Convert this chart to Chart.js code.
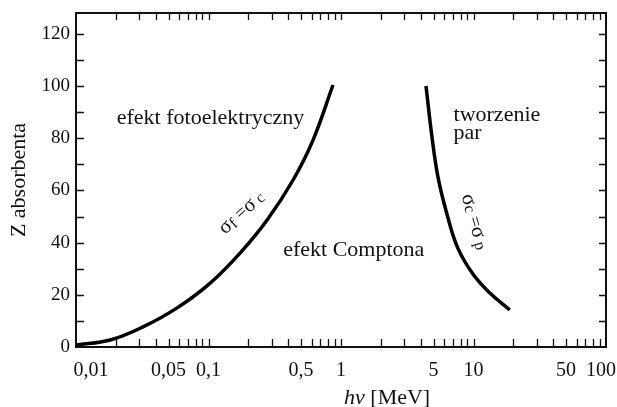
<!DOCTYPE html>
<html lang="pl">
  <head>
    <meta charset="UTF-8" />
    <title>Efekty absorpcji</title>
    <style>
      * { margin: 0; padding: 0; box-sizing: border-box; }
      body { background: #fff; }
      canvas { display: block; }
    </style>
  </head>
  <body>
    <canvas id="chart" width="617" height="407"></canvas>

    <script src="https://cdn.jsdelivr.net/npm/chart.js"></script>
    <script>
      // curve sigma_f = sigma_c  (energy in MeV, Z)
      const photoComptonE = [0.01, 0.0181, 0.032, 0.058, 0.103, 0.173, 0.277, 0.435, 0.615, 0.87];
      const photoComptonZ = [0.8, 2.7, 7.7, 15, 24.5, 36, 48.7, 64, 79.3, 100.4];

      // curve sigma_c = sigma_p
      const comptonPairE = [4.38, 4.86, 5.4, 6.3, 7.6, 9.9, 13.3, 18.8];
      const comptonPairZ = [100, 80.5, 65, 51, 38, 28, 20.7, 14.2];

      const xLabelTicks = [0.01, 0.05, 0.1, 0.5, 1, 5, 10, 50, 100];
      const xLabelText = ["0,01", "0,05", "0,1", "0,5", "1", "5", "10", "50", "100"];
      const xMinorTicks = [
        0.02, 0.03, 0.04, 0.05, 0.06, 0.07, 0.08, 0.09,
        0.1, 0.2, 0.3, 0.4, 0.5, 0.6, 0.7, 0.8, 0.9,
        1, 2, 3, 4, 5, 6, 7, 8, 9,
        10, 20, 30, 40, 50, 60, 70, 80, 90
      ];
      const yLabelTicks = [0, 20, 40, 60, 80, 100, 120];
      const yMinorTicks = [10, 20, 30, 40, 50, 60, 70, 80, 90, 100, 110, 120];

      const SERIF = "'Liberation Serif', 'Times New Roman', serif";

      const toPoints = (xs, ys) => xs.map((v, i) => ({ x: v, y: ys[i] }));

      // text pieces: [text, size, dy]
      function drawPieces(ctx, pieces, cx, cy, angle) {
        ctx.save();
        ctx.translate(cx, cy);
        ctx.rotate(angle * Math.PI / 180);
        let total = 0;
        pieces.forEach(p => {
          ctx.font = p[1] + "px " + SERIF;
          total += ctx.measureText(p[0]).width;
        });
        let px = -total / 2;
        ctx.textBaseline = "middle";
        ctx.textAlign = "left";
        pieces.forEach(p => {
          ctx.font = p[1] + "px " + SERIF;
          ctx.fillText(p[0], px, p[2]);
          px += ctx.measureText(p[0]).width;
        });
        ctx.restore();
      }

      const frameAndLabels = {
        id: "frameAndLabels",
        afterDatasetsDraw(chart) {
          const { ctx, chartArea: a, scales: { x, y } } = chart;
          ctx.save();
          ctx.strokeStyle = "#111";
          ctx.lineWidth = 1.3;
          ctx.beginPath();
          xMinorTicks.forEach(v => {
            const px = Math.round(x.getPixelForValue(v)) + 0.5;
            ctx.moveTo(px, a.bottom); ctx.lineTo(px, a.bottom - 8);
            ctx.moveTo(px, a.top); ctx.lineTo(px, a.top + 7);
          });
          yMinorTicks.forEach(v => {
            const py = Math.round(y.getPixelForValue(v)) + 0.5;
            ctx.moveTo(a.left, py); ctx.lineTo(a.left + 8, py);
            ctx.moveTo(a.right, py); ctx.lineTo(a.right - 7, py);
          });
          ctx.stroke();
          ctx.lineWidth = 2;
          ctx.strokeRect(a.left, a.top, a.right - a.left, a.bottom - a.top);

          ctx.fillStyle = "#111";
          ctx.textBaseline = "middle";
          ctx.textAlign = "left";
          ctx.font = "22px " + SERIF;
          ctx.fillText("efekt fotoelektryczny", x.getPixelForValue(0.0203), y.getPixelForValue(87.7));
          ctx.fillText("efekt Comptona", x.getPixelForValue(0.366), y.getPixelForValue(37.2));
          ctx.fillText("tworzenie", x.getPixelForValue(7.07), y.getPixelForValue(88.9));
          ctx.fillText("par", x.getPixelForValue(7.07), y.getPixelForValue(82));

          drawPieces(ctx, [["σ", 21, 0], ["f", 16, 3], [" =", 19, 0], ["σ", 21, 0], [" c", 16, 2]],
            x.getPixelForValue(0.178), y.getPixelForValue(51.5), -42);
          drawPieces(ctx, [["σ", 21, 0], ["c", 16, 2], [" =", 19, 0], ["σ", 21, 0], [" p", 16, 2]],
            x.getPixelForValue(10.2), y.getPixelForValue(48), 74);

          // x axis title, set right of centre as in the original
          const tx = a.left + (a.right - a.left) * 0.587;
          const ty = a.bottom + 51;
          ctx.font = "italic 22px " + SERIF;
          const w1 = ctx.measureText("hν").width;
          ctx.font = "22px " + SERIF;
          const w2 = ctx.measureText(" [MeV]").width;
          const sx = tx - (w1 + w2) / 2;
          ctx.font = "italic 22px " + SERIF;
          ctx.fillText("hν", sx, ty);
          ctx.font = "22px " + SERIF;
          ctx.fillText(" [MeV]", sx + w1, ty);
          ctx.restore();
        }
      };

      const ctxChart = document.getElementById("chart").getContext("2d");

      const chart = new Chart(ctxChart, {
        type: "scatter",
        data: {
          datasets: [
            {
              label: "σf = σc",
              data: toPoints(photoComptonE, photoComptonZ),
              showLine: true,
              borderColor: "#000",
              borderWidth: 3.5,
              pointRadius: 0,
              tension: 0.4,
            },
            {
              label: "σc = σp",
              data: toPoints(comptonPairE, comptonPairZ),
              showLine: true,
              borderColor: "#000",
              borderWidth: 3.5,
              pointRadius: 0,
              tension: 0.4,
            },
          ],
        },
        options: {
          responsive: false,
          animation: false,
          layout: { padding: { top: 13, right: 11, left: 0, bottom: 0 } },
          plugins: {
            legend: { display: false },
            tooltip: { enabled: false },
          },
          scales: {
            x: {
              type: "logarithmic",
              min: 0.01,
              max: 100,
              grid: { display: false, drawTicks: false },
              border: { display: false },
              afterBuildTicks: (s) => { s.ticks = xLabelTicks.map(v => ({ value: v })); },
              afterFit: (s) => { s.height = 60; s.paddingLeft = 0; s.paddingRight = 0; },
              ticks: {
                autoSkip: false,
                maxRotation: 0,
                padding: 12,
                color: "#111",
                font: { family: SERIF, size: 20 },
                callback: (v) => {
                  const i = xLabelTicks.indexOf(v);
                  if (i < 0) return "";
                  // end labels sit inside the frame, as in the printed figure
                  if (i === 0) return "      " + xLabelText[i];
                  if (i === xLabelTicks.length - 1) return xLabelText[i] + "  ";
                  return xLabelText[i];
                },
              },
            },
            y: {
              min: 0,
              max: 128,
              grid: { display: false, drawTicks: false },
              border: { display: false },
              afterBuildTicks: (s) => { s.ticks = yLabelTicks.map(v => ({ value: v })); },
              afterFit: (s) => { s.width = 76; s.paddingTop = 0; s.paddingBottom = 0; },
              ticks: {
                padding: 6,
                color: "#111",
                font: { family: SERIF, size: 19 },
              },
              title: {
                display: true,
                text: "Z absorbenta",
                color: "#111",
                font: { family: SERIF, size: 22 },
                padding: { top: 6, bottom: 0 },
              },
            },
          },
        },
        plugins: [frameAndLabels],
      });
    </script>
  </body>
</html>
